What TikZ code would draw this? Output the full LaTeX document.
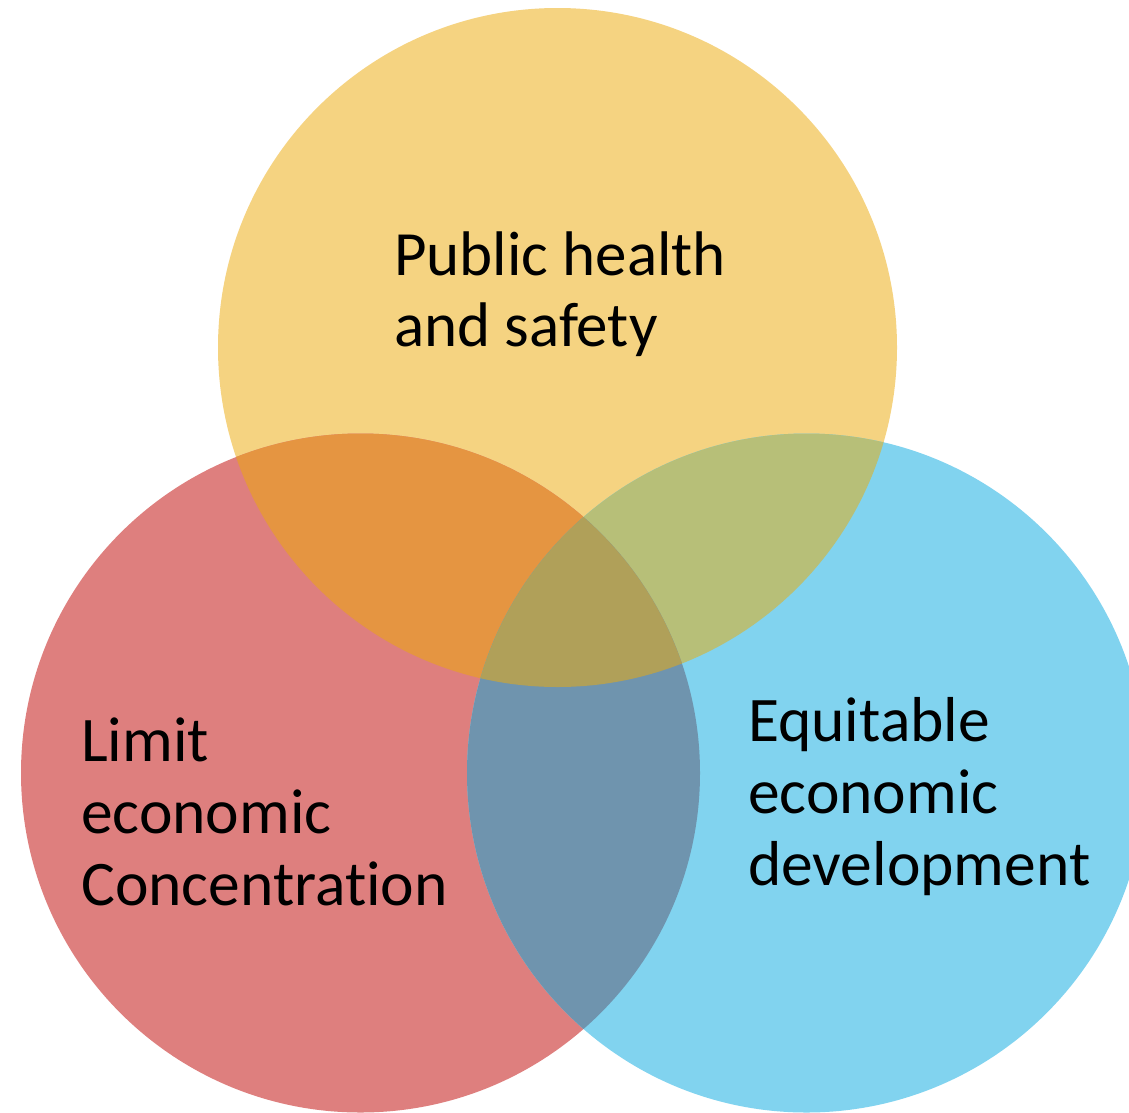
\documentclass[tikz,border=0pt]{standalone}
\usepackage{fontspec}
\setmainfont{Carlito}[Ligatures={NoCommon,NoDiscretionary,NoRare},RawFeature={-liga;-dlig;-clig}]
\definecolor{cYel}{HTML}{F5D381}
\definecolor{cRed}{HTML}{DE7F7E}
\definecolor{cBlue}{HTML}{81D3EF}
\definecolor{cYR}{HTML}{E59541}
\definecolor{cYB}{HTML}{B7BF78}
\definecolor{cRB}{HTML}{6F94AE}
\definecolor{cAll}{HTML}{B0A059}
\begin{document}
\begin{tikzpicture}[x=1pt,y=-1pt,
  lbl/.style={anchor=base west,inner sep=0pt,align=left,font=\fontsize{63.5}{72}\selectfont}]
\useasboundingbox (0,0) rectangle (1129,1112);
\def\R{339.5}
\coordinate (T) at (557.5,347.5);
\coordinate (L) at (360.5,773);
\coordinate (Rt) at (806.5,773);
\fill[cYel] (T) circle[radius=\R];
\fill[cRed] (L) circle[radius=\R];
\fill[cBlue] (Rt) circle[radius=\R];
\begin{scope}
  \clip (T) circle[radius=\R];
  \fill[cYR] (L) circle[radius=\R];
  \fill[cYB] (Rt) circle[radius=\R];
\end{scope}
\begin{scope}
  \clip (L) circle[radius=\R];
  \fill[cRB] (Rt) circle[radius=\R];
  \clip (Rt) circle[radius=\R];
  \fill[cAll] (T) circle[radius=\R];
\end{scope}
\node[lbl,font=\fontsize{63}{71}\selectfont] (ph) at (394,346) {Public health\\and safety};
\node[lbl] (lc) at (81,905) {Limit\\economic\\Concentration};
\node[lbl] (ed) at (748,885) {Equitable\\economic\\development};
\end{tikzpicture}
\end{document}
